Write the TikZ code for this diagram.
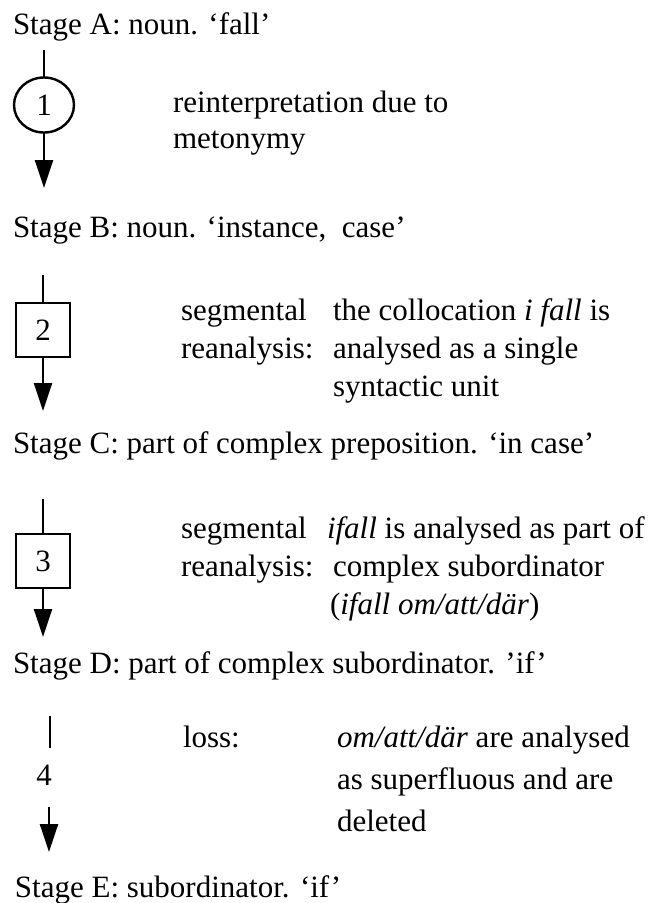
\documentclass[tikz,border=0pt]{standalone}
\usepackage{fontspec}
\setmainfont{Liberation Serif}
\usetikzlibrary{arrows.meta,shapes.geometric}
\begin{document}
\begin{tikzpicture}[x=1pt,y=-1pt,
  every node/.style={font=\fontsize{31}{37}\selectfont, inner sep=0pt, outer sep=0pt},
  txt/.style={anchor=base west},
  link/.style={line width=2.4pt},
  flow/.style={line width=2.4pt, -{Triangle[width=18pt,length=28pt]}},
  oval/.style={ellipse, draw, line width=2.4pt, minimum width=60pt, minimum height=55pt},
  square/.style={rectangle, draw, line width=2.4pt, minimum width=54pt, minimum height=54pt}]
\useasboundingbox (0,0) rectangle (650,903);

% Stage A and change 1
\node[txt] (sA) at (13,34) {Stage A: noun. ‘fall’};
\coordinate (t1) at (44,50);
\node[oval] (c1) at (44,105) {1};
\coordinate (h1) at (44,188);
\draw[link] (t1) -- (c1.north);
\draw[flow] (c1.south) -- (h1);
\node[txt] (d1a) at (173,112) {reinterpretation due to};
\node[txt] (d1b) at (173,148) {metonymy};

% Stage B and change 2
\node[txt] (sB) at (13,237) {Stage B: noun. ‘instance,\ \ case’};
\coordinate (t2) at (43,275);
\node[square] (c2) at (43,330) {2};
\coordinate (h2) at (43,411);
\draw[link] (t2) -- (c2.north);
\draw[flow] (c2.south) -- (h2);
\node[txt] (k2a) at (181,320) {segmental};
\node[txt] (k2b) at (181,358) {reanalysis:};
\node[txt] (d2a) at (333,320) {the collocation \textit{i fall} is};
\node[txt] (d2b) at (333,358) {analysed as a single};
\node[txt] (d2c) at (333,396) {syntactic unit};

% Stage C and change 3
\node[txt] (sC) at (13,453) {Stage C: part of complex preposition. ‘in case’};
\coordinate (t3) at (43,499);
\node[square] (c3) at (43,561) {3};
\coordinate (h3) at (43,637);
\draw[link] (t3) -- (c3.north);
\draw[flow] (c3.south) -- (h3);
\node[txt] (k3a) at (181,538) {segmental};
\node[txt] (k3b) at (181,576) {reanalysis:};
\node[txt] (d3a) at (327,538) {\textit{ifall} is analysed as part of};
\node[txt] (d3b) at (333,576) {complex subordinator};
\node[txt] (d3c) at (330,614) {(\textit{ifall om/att/där})};

% Stage D and change 4
\node[txt] (sD) at (13,673) {Stage D: part of complex subordinator. ’if’};
\coordinate (t4) at (50,716);
\coordinate (b4) at (50,748);
\draw[link] (t4) -- (b4);
\node[anchor=base] (c4) at (44,785) {4};
\coordinate (s4) at (49,807);
\coordinate (h4) at (49,852);
\draw[flow] (s4) -- (h4);
\node[txt] (k4) at (183,747) {loss:};
\node[txt] (d4a) at (337,747) {\textit{om/att/där} are analysed};
\node[txt] (d4b) at (337,789) {as superfluous and are};
\node[txt] (d4c) at (337,831) {deleted};

% Stage E
\node[txt] (sE) at (15,897) {Stage E: subordinator. ‘if’};
\end{tikzpicture}
\end{document}
